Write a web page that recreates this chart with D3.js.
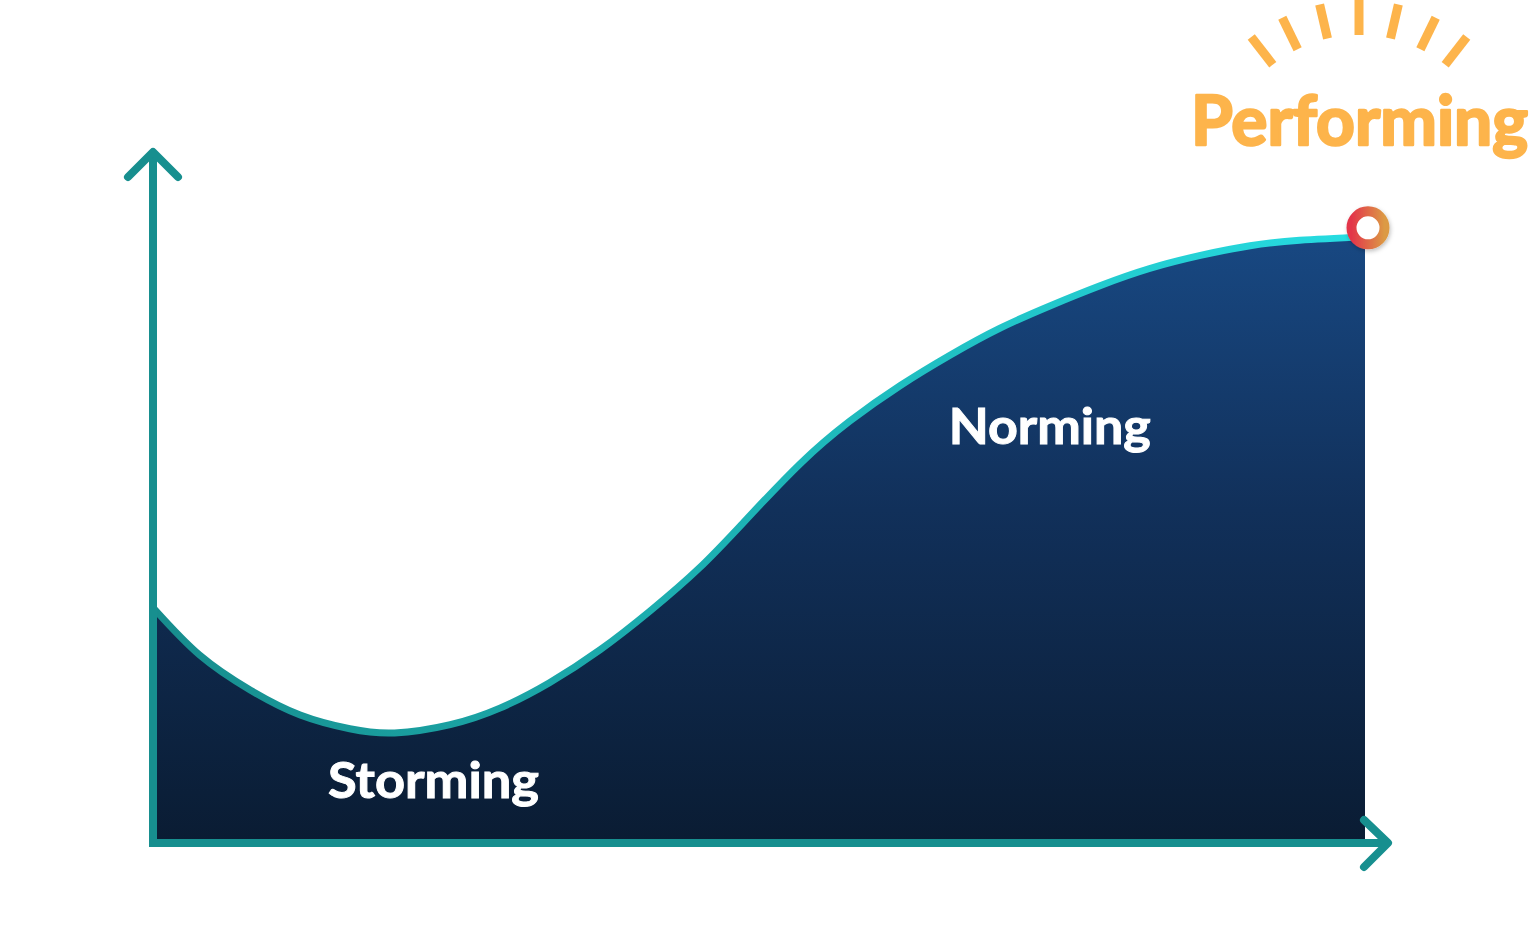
<!DOCTYPE html>
<html>
<head>
<meta charset="utf-8">
<script src="https://cdn.jsdelivr.net/npm/d3@7"></script>
<style>
    html, body { margin: 0; padding: 0; background: #ffffff; }
    svg { display: block; }
    .stage-label { font-family: Lato, "Open Sans", sans-serif; font-weight: 700; }
</style>
</head>
<body>
<div id="chart"></div>
<script>
"use strict";

// Team progress (0-100) against time (0-100)
const timeValues = [0, 3.7, 7.9, 12.0, 16.1, 19.8, 24.4, 28.5, 32.6, 36.8, 40.9, 45.0, 48.8,
    53.3, 57.4, 61.6, 65.7, 69.8, 74.0, 78.1, 82.2, 86.4, 90.5, 94.6, 100];
const progressValues = [33.9, 27.3, 22.2, 18.6, 16.6, 16.0, 17.2, 19.6, 23.3, 28.1, 33.7, 40.0, 46.9,
    55.1, 61.3, 66.5, 70.9, 74.8, 78.1, 81.0, 83.5, 85.4, 86.8, 87.6, 88.1];

// Stage labels and where they sit (time, progress)
const stageNames = ["Storming", "Norming"];
const stageTime = [14.3, 65.6];
const stagePos = [6.5, 58.0];

const peakLabel = "Performing";
const rayAngles = [-38, -26, -13, 0, 13, 26, 38];

const width = 1532;
const height = 937;
const margin = { top: 155, right: 167, bottom: 94, left: 155 };

const x = d3.scaleLinear()
    .domain([0, 100])
    .range([margin.left, width - margin.right]);

const y = d3.scaleLinear()
    .domain([0, 100])
    .range([height - margin.bottom, margin.top]);

const points = timeValues.map((t, i) => ({ t: t, v: progressValues[i] }));

const svg = d3.select("#chart")
    .append("svg")
    .attr("width", width)
    .attr("height", height);

const defs = svg.append("defs");

// Fill gradient: blue at the top, near black at the bottom
const fillGrad = defs.append("linearGradient")
    .attr("id", "fillGrad")
    .attr("gradientUnits", "userSpaceOnUse")
    .attr("x1", 0).attr("x2", 0)
    .attr("y1", y(88)).attr("y2", y(0));
fillGrad.append("stop").attr("offset", "0%").attr("stop-color", "#184882");
fillGrad.append("stop").attr("offset", "45%").attr("stop-color", "#11305a");
fillGrad.append("stop").attr("offset", "100%").attr("stop-color", "#0a1c33");

// Line gradient: teal on the left to cyan on the right
const lineGrad = defs.append("linearGradient")
    .attr("id", "lineGrad")
    .attr("gradientUnits", "userSpaceOnUse")
    .attr("x1", x(0)).attr("x2", x(100))
    .attr("y1", 0).attr("y2", 0);
lineGrad.append("stop").attr("offset", "0%").attr("stop-color", "#178d8d");
lineGrad.append("stop").attr("offset", "50%").attr("stop-color", "#1db4b6");
lineGrad.append("stop").attr("offset", "100%").attr("stop-color", "#27dde2");

const ringGrad = defs.append("linearGradient")
    .attr("id", "ringGrad")
    .attr("x1", "0%").attr("x2", "100%")
    .attr("y1", "0%").attr("y2", "0%");
ringGrad.append("stop").attr("offset", "0%").attr("stop-color", "#e3354a");
ringGrad.append("stop").attr("offset", "100%").attr("stop-color", "#dc9a44");

const shadow = defs.append("filter")
    .attr("id", "shadow")
    .attr("x", "-50%").attr("y", "-50%")
    .attr("width", "200%").attr("height", "200%");
shadow.append("feDropShadow")
    .attr("dx", 1).attr("dy", 2)
    .attr("stdDeviation", 2)
    .attr("flood-opacity", 0.25);

// Area under the curve
const area = d3.area()
    .x(d => x(d.t))
    .y0(y(0))
    .y1(d => y(d.v))
    .curve(d3.curveNatural);

svg.append("path")
    .datum(points)
    .attr("d", area)
    .attr("fill", "url(#fillGrad)");

// The curve itself
const line = d3.line()
    .x(d => x(d.t))
    .y(d => y(d.v))
    .curve(d3.curveNatural);

svg.append("path")
    .datum(points)
    .attr("d", line)
    .attr("fill", "none")
    .attr("stroke", "url(#lineGrad)")
    .attr("stroke-width", 7)
    .attr("stroke-linecap", "round");

// Axes drawn as arrows
const axisColor = "#178f8f";
const axes = svg.append("g")
    .attr("stroke", axisColor)
    .attr("stroke-width", 8)
    .attr("fill", "none")
    .attr("stroke-linecap", "round")
    .attr("stroke-linejoin", "round");

const x0 = x(0) - 2;
const yBase = y(0);
const yTop = y(100) - 3;
const xEnd = x(100) + 23;

axes.append("line")
    .attr("x1", x0).attr("y1", yBase)
    .attr("x2", x0).attr("y2", yTop + 2)
    .attr("stroke-linecap", "butt");
axes.append("polyline")
    .attr("points", [[x0 - 25, yTop + 25], [x0, yTop], [x0 + 25, yTop + 25]].join(" "));

axes.append("line")
    .attr("x1", x0 - 4).attr("y1", yBase)
    .attr("x2", xEnd - 4).attr("y2", yBase)
    .attr("stroke-linecap", "butt");
axes.append("polyline")
    .attr("points", [[xEnd - 24, yBase - 23], [xEnd, yBase], [xEnd - 24, yBase + 24]].join(" "));

// Stage labels (a thin stroke makes the bold face a little heavier)
svg.selectAll(".stage-label")
    .data(stageNames)
    .join("text")
    .attr("class", "stage-label")
    .attr("x", (d, i) => x(stageTime[i]))
    .attr("y", (d, i) => y(stagePos[i]))
    .attr("fill", "#ffffff")
    .attr("stroke", "#ffffff")
    .attr("stroke-width", 1)
    .attr("font-size", 50)
    .attr("textLength", (d, i) => i === 0 ? 211 : 202)
    .attr("lengthAdjust", "spacingAndGlyphs")
    .text(d => d);

// Marker at the end of the curve
const last = points[points.length - 1];
const endX = x(last.t) + 3;
const endY = y(last.v) - 9;

svg.append("circle")
    .attr("cx", endX)
    .attr("cy", endY)
    .attr("r", 16.5)
    .attr("fill", "#ffffff")
    .attr("stroke", "url(#ringGrad)")
    .attr("stroke-width", 10)
    .attr("filter", "url(#shadow)");

// "Performing" with its sun rays
const peakColor = "#fdb44b";
svg.append("text")
    .attr("class", "stage-label")
    .attr("x", 1191)
    .attr("y", 145)
    .attr("fill", peakColor)
    .attr("stroke", peakColor)
    .attr("stroke-width", 2.5)
    .attr("stroke-linejoin", "round")
    .attr("font-size", 68)
    .attr("textLength", 337)
    .attr("lengthAdjust", "spacingAndGlyphs")
    .text(peakLabel);

const rayCx = 1359, rayCy = 175, rIn = 140, rOut = 175;
svg.append("g")
    .selectAll("line")
    .data(rayAngles)
    .join("line")
    .attr("x1", a => rayCx + rIn * Math.sin(a * Math.PI / 180))
    .attr("y1", a => rayCy - rIn * Math.cos(a * Math.PI / 180))
    .attr("x2", a => rayCx + rOut * Math.sin(a * Math.PI / 180))
    .attr("y2", a => rayCy - rOut * Math.cos(a * Math.PI / 180))
    .attr("stroke", peakColor)
    .attr("stroke-width", 9);
</script>
</body>
</html>
